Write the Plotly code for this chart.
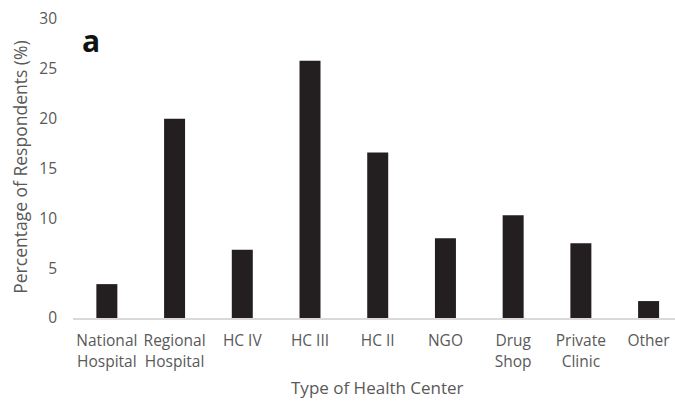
import plotly.graph_objects as go

categories = ["National<br>Hospital", "Regional<br>Hospital", "HC IV", "HC III", "HC II",
              "NGO", "Drug<br>Shop", "Private<br>Clinic", "Other"]
values = [3.4, 20.0, 6.85, 25.8, 16.6, 8.0, 10.3, 7.5, 1.7]
y_ticks = [0, 5, 10, 15, 20, 25, 30]

FONT = "Open Sans, Carlito, Calibri, sans-serif"
GRAY = "#595959"

W, H = 675, 406
l, r, t = 73, 0, 19
b = H - 318.5

fig = go.Figure()
fig.add_trace(go.Bar(x=categories, y=values, marker=dict(color="#231f20", line=dict(width=0)),
                     width=0.31))

fig.update_layout(
    width=W, height=H,
    margin=dict(l=l, r=r, t=t, b=b, pad=0),
    plot_bgcolor="white", paper_bgcolor="white",
    showlegend=False,
    font=dict(family=FONT, size=16, color=GRAY),
    xaxis=dict(range=[-0.5, 8.39], showline=True, linecolor="#d9d9d9", linewidth=1.5,
               showgrid=False, ticks="", tickfont=dict(size=15.5, color=GRAY), tickangle=0,
               ticklabelstandoff=8),
    yaxis=dict(range=[0, 30], tickvals=y_ticks, showline=False, showgrid=False, zeroline=False,
               ticks="", tickfont=dict(size=15.5, color=GRAY), ticklabelstandoff=15),
)

pw, ph = W - l - r, H - t - b
def ann(text, px, py, size, color=GRAY, angle=0):
    fig.add_annotation(text=text, xref="paper", yref="paper",
                       x=(px - l) / pw, y=1 - (py - t) / ph,
                       xanchor="center", yanchor="middle", showarrow=False,
                       textangle=angle, font=dict(size=size, color=color, family=FONT))

ann("Type of Health Center", 377, 388, 17)
ann("Percentage of Respondents (%)", 20, 168, 17.5, angle=-90)
ann("<b>a</b>", 91, 41, 30, color="#111111")

fig.write_html("out.html", config={"displayModeBar": False},
               post_script="document.body.style.margin='0';document.body.style.overflow='hidden';")
